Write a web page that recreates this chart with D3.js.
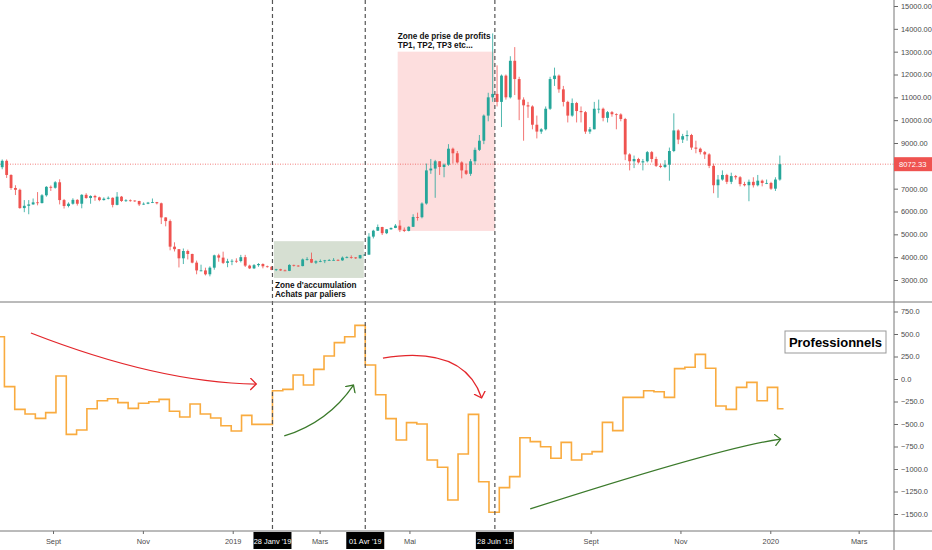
<!DOCTYPE html>
<html>
<head>
<meta charset="utf-8">
<style>
  body { margin: 0; background: #fff; }
  svg { display: block; font-family: "Liberation Sans", Arial, sans-serif; }
  .axis text { fill: #4a4a4a; font-size: 7.4px; }
  .axis line { stroke: #666; }
  .axis path { display: none; }
  .note { font-weight: bold; font-size: 8.2px; fill: #111; }
</style>
</head>
<body>
<div id="chart"></div>
<script src="https://cdn.jsdelivr.net/npm/d3@7"></script>
<script>
// ---- data ----
// 3-day candles starting 2018-07-27; open = previous close
const candleStart = "2018-07-27";
const candleDays = 3;
const firstOpen = 7940;
const closes = [
  8220, 7600, 7030, 6950, 6150, 6250, 6310, 6400, 6370, 6710,
  7080, 7040, 7280, 6500, 6240, 6340, 6510, 6340, 6730, 6590,
  6680, 6620, 6500, 6560, 6600, 6290, 6650, 6460, 6490, 6480,
  6460, 6310, 6340, 6390, 6410, 6360, 5740, 5580, 4460, 4350,
  3950, 4270, 4140, 3760, 3420, 3420, 3250, 3540, 4080, 3980,
  3750, 3820, 3840, 3830, 4000, 3630, 3510, 3650, 3700, 3600,
  3580, 3440, 3470, 3420, 3400, 3660, 3630, 3610, 3900, 3920,
  3760, 3820, 3830, 3860, 3870, 3880, 3860, 3980, 4000, 3990,
  3950, 4090, 4110, 4900, 5160, 5320, 5050, 5220, 5280, 5380,
  5200, 5150, 5330, 5760, 5750, 6350, 7800, 7880, 8200, 7950,
  8050, 8750, 8550, 8150, 7800, 7650, 8200, 8700, 9100, 10200,
  11000, 11150, 10800, 11950, 11000, 12600, 11800, 10900, 10650, 10600,
  9800, 9500, 9600, 10500, 11800, 11950, 11350, 10800, 10200, 10750,
  10400, 10350, 9500, 9600, 10500, 10500, 10100, 10350, 10260, 10250,
  10050, 8500, 8200, 8300, 8150, 8200, 8600, 8300, 8000, 7950,
  8050, 8650, 9550, 9150, 9300, 9350, 8800, 8750, 8600, 8500,
  8000, 7150, 7400, 7600, 7300, 7550, 7500, 7200, 7150, 7300,
  7150, 7350, 7250, 7250, 7000, 7400, 8072.33
];
const highs = [
  8280, 8280, 7630, 7150, 7000, 6500, 6500, 6570, 6850, 6760,
  7110, 7140, 7330, 7410, 6550, 6400, 6580, 6540, 6760, 6800,
  6710, 6730, 6650, 6620, 6660, 6620, 6850, 6680, 6540, 6530,
  6490, 6470, 6400, 6420, 6570, 6420, 6390, 5750, 5650, 4650,
  4350, 4380, 4330, 4150, 3850, 3670, 3540, 3600, 4110, 4150,
  4240, 3930, 3910, 3950, 4100, 4100, 3670, 3700, 3740, 3730,
  3630, 3610, 3490, 3490, 3460, 3690, 3670, 3650, 3940, 4000,
  4200, 3860, 3900, 3880, 3920, 3960, 3910, 4030, 4040, 4080,
  4000, 4100, 4130, 5050, 5200, 5430, 5330, 5230, 5300, 5450,
  5620, 5300, 5350, 5880, 5950, 6400, 8100, 8300, 8260, 8200,
  8100, 8950, 8800, 8650, 8200, 8100, 8300, 8800, 9350, 10250,
  11200, 13800, 12400, 12000, 12000, 12800, 13200, 11900, 11000, 10800,
  10650, 10200, 9650, 10600, 11900, 12300, 12000, 11500, 10850, 10950,
  10800, 10600, 10400, 9700, 10800, 10900, 10550, 10400, 10400, 10300,
  10300, 10100, 8550, 8450, 8350, 8300, 8650, 8650, 8400, 8100,
  8250, 8800, 10300, 9600, 9400, 9550, 9400, 9100, 8800, 8650,
  8550, 8100, 7600, 7800, 7650, 7700, 7600, 7550, 7300, 7400,
  7500, 7600, 7400, 7400, 7300, 7500, 8450
];
const lows = [
  7850, 7470, 6950, 6720, 6120, 5970, 5880, 6300, 6270, 6350,
  6650, 6900, 7000, 6310, 6130, 6180, 6300, 6260, 6140, 6560,
  6340, 6470, 6450, 6480, 6530, 6180, 6270, 6420, 6420, 6430,
  6420, 6240, 6290, 6320, 6370, 6310, 5450, 5350, 4300, 4250,
  3550, 3700, 3900, 3730, 3250, 3380, 3200, 3160, 3450, 3800,
  3700, 3560, 3650, 3750, 3770, 3570, 3480, 3480, 3580, 3510,
  3540, 3430, 3390, 3400, 3390, 3390, 3590, 3580, 3600, 3850,
  3740, 3700, 3780, 3740, 3840, 3850, 3830, 3840, 3950, 3930,
  3920, 3940, 4060, 4100, 4820, 5150, 4970, 5010, 5200, 5270,
  5100, 5100, 5130, 5320, 5600, 5700, 6300, 7650, 6600, 7600,
  7500, 8000, 8100, 8100, 7450, 7600, 7560, 8050, 8650, 8950,
  9950, 10800, 10600, 9700, 10900, 10950, 11100, 10000, 9100, 10100,
  9600, 9200, 9400, 9550, 10450, 11500, 11200, 10600, 9900, 10150,
  9900, 9900, 9400, 9400, 9600, 10300, 9950, 9900, 10150, 9600,
  9950, 8250, 7800, 7900, 8100, 7800, 8150, 8150, 7950, 7900,
  7900, 7350, 8600, 8950, 9000, 9100, 8700, 8550, 8500, 8300,
  7900, 6800, 6600, 7350, 7200, 7200, 7400, 7100, 7100, 6450,
  7050, 7100, 7100, 7200, 6950, 6900, 7350
];
const lastPrice = 8072.33;
// price scale labels (8000 sits under the last-price tag)
const priceTicks = [3000, 4000, 5000, 6000, 7000, 9000, 10000, 11000, 12000, 13000, 14000, 15000];

// weekly "Professionnels" indicator, weeks starting Monday 2018-07-23
const weekStart = "2018-07-23";
const proValues = [
  470, -85, -337, -389, -437, -374, 33, -615, -567, -330,
  -241, -219, -263, -326, -270, -252, -226, -359, -422, -278,
  -389, -433, -519, -578, -404, -504, -504, -130, -115, 44,
  -67, 107, 256, 404, 470, 596, 156, -175, -440, -678,
  -485, -500, -900, -981, -1344, -833, -393, -1141, -1481, -1207,
  -1085, -652, -696, -752, -881, -704, -900, -833, -807, -482,
  -574, -204, -204, -130, -141, -204, 115, 130, 274, 119,
  -300, -337, -93, -37, -241, -93, -330
];
const proEnd = "2020-01-10";
const proTicks = [-1500, -1250, -1000, -750, -500, -250, 0, 250, 500, 750];

// x axis (Juil 2019 is hidden under the 28 Juin tag)
const monthTicks = ["2018-09-01","2018-11-01","2019-01-01","2019-03-01","2019-05-01",
                    "2019-09-01","2019-11-01","2020-01-01","2020-03-01"];
const monthLabels = ["Sept","Nov","2019","Mars","Mai","Sept","Nov","2020","Mars"];

// marked dates
const markDates = ["2019-01-28","2019-04-01","2019-06-28"];
const markLabels = ["28 Janv '19","01 Avr '19","28 Juin '19"];

// zones: [from, to, low, high]
const accZone = ["2019-01-29","2019-03-31",3090,4700];
const tpZone = ["2019-04-23","2019-06-28",5150,13000];

// arrows in the indicator pane: [start, control, end] as [date, value]
const arrowRed1 = [["2018-08-17",511],["2018-11-12",-44],["2019-01-17",-56]];
const arrowGreen1 = [["2019-02-05",-633],["2019-03-07",-478],["2019-03-24",-67]];
const arrowRed2 = [["2019-04-13",233],["2019-06-07",378],["2019-06-19",-211]];
const arrowGreen2 = [["2019-07-22",-1444],["2019-11-30",-756],["2020-01-08",-667]];

// ---- chart ----
const W = 932, H = 550;
const plotR = 894;
const paneSep = 302, timeAxisY = 531;
const upCol = "#26a69a", downCol = "#ef5350";
const red = "#e3262b", green = "#3b7a2b";

const parse = d3.timeParse("%Y-%m-%d");

const x = d3.scaleTime()
  .domain([parse("2018-07-27"), parse("2020-03-25")])
  .range([0, plotR]);
const yP = d3.scaleLinear().domain([3000, 15000]).range([280, 6]);
const yI = d3.scaleLinear().domain([-1500, 750]).range([514, 311.5]);

const svg = d3.select("#chart").append("svg")
  .attr("width", W).attr("height", H);

const defs = svg.append("defs");
defs.append("clipPath").attr("id", "plotclip")
  .append("rect").attr("x", 0).attr("y", 0).attr("width", plotR).attr("height", timeAxisY);

[["headRed", red], ["headGreen", green]].forEach(([id, c]) => {
  defs.append("marker")
    .attr("id", id)
    .attr("markerUnits", "userSpaceOnUse")
    .attr("markerWidth", 10).attr("markerHeight", 14)
    .attr("refX", 6).attr("refY", 6)
    .attr("orient", "auto")
    .append("path")
    .attr("d", "M0,0 L6,6 L0,12")
    .attr("fill", "none")
    .attr("stroke", c)
    .attr("stroke-width", 1.3);
});

const plot = svg.append("g").attr("clip-path", "url(#plotclip)");

// zones
function zone(z, fill) {
  plot.append("rect")
    .attr("x", x(parse(z[0])))
    .attr("y", yP(z[3]))
    .attr("width", x(parse(z[1])) - x(parse(z[0])))
    .attr("height", yP(z[2]) - yP(z[3]))
    .attr("fill", fill);
}
zone(accZone, "#d6dfd2");
zone(tpZone, "#fddede");

// last price line
plot.append("line")
  .attr("x1", 0).attr("x2", plotR)
  .attr("y1", yP(lastPrice)).attr("y2", yP(lastPrice))
  .attr("stroke", downCol).attr("stroke-opacity", 0.75)
  .attr("stroke-dasharray", "1,1.5");

// candles
const t0 = parse(candleStart);
const candles = closes.map((c, i) => ({
  d0: d3.timeDay.offset(t0, i * candleDays),
  d1: d3.timeDay.offset(t0, (i + 1) * candleDays),
  o: i === 0 ? firstOpen : closes[i - 1],
  c: c, h: highs[i], l: lows[i]
}));

const cg = plot.append("g").selectAll("g").data(candles).join("g");
cg.append("line")
  .attr("x1", d => (x(d.d0) + x(d.d1)) / 2)
  .attr("x2", d => (x(d.d0) + x(d.d1)) / 2)
  .attr("y1", d => yP(d.h))
  .attr("y2", d => yP(d.l))
  .attr("stroke", d => d.c >= d.o ? upCol : downCol)
  .attr("stroke-width", 0.8);
cg.append("rect")
  .attr("x", d => x(d.d0) + (x(d.d1) - x(d.d0)) * 0.18)
  .attr("width", d => (x(d.d1) - x(d.d0)) * 0.64)
  .attr("y", d => yP(Math.max(d.o, d.c)))
  .attr("height", d => Math.max(0.8, Math.abs(yP(d.o) - yP(d.c))))
  .attr("fill", d => d.c >= d.o ? upCol : downCol);

// indicator step line
const w0 = parse(weekStart);
const proPts = proValues.map((v, i) => [d3.timeDay.offset(w0, i * 7), v]);
proPts.push([parse(proEnd), proValues[proValues.length - 1]]);
plot.append("path")
  .datum(proPts)
  .attr("fill", "none")
  .attr("stroke", "#f9ab3f")
  .attr("stroke-width", 1.6)
  .attr("d", d3.line().x(d => x(d[0])).y(d => yI(d[1])).curve(d3.curveStepAfter));

// arrows
function arrow(a, c, head) {
  const p = a.map(q => [x(parse(q[0])), yI(q[1])]);
  svg.append("path")
    .attr("d", `M${p[0][0]},${p[0][1]} Q${p[1][0]},${p[1][1]} ${p[2][0]},${p[2][1]}`)
    .attr("fill", "none")
    .attr("stroke", c)
    .attr("stroke-width", 1.3)
    .attr("marker-end", `url(#${head})`);
}
arrow(arrowRed1, red, "headRed");
arrow(arrowGreen1, green, "headGreen");
arrow(arrowRed2, red, "headRed");
arrow(arrowGreen2, green, "headGreen");

// dashed vertical markers
svg.append("g").selectAll("line").data(markDates).join("line")
  .attr("x1", d => x(parse(d))).attr("x2", d => x(parse(d)))
  .attr("y1", 0).attr("y2", timeAxisY)
  .attr("stroke", "#555")
  .attr("stroke-width", 1.2)
  .attr("stroke-dasharray", "4,3");

// zone notes
const tpX = x(parse(tpZone[0]));
svg.append("text").attr("class", "note").attr("x", tpX).attr("y", yP(tpZone[3]) - 13)
  .text("Zone de prise de profits");
svg.append("text").attr("class", "note").attr("x", tpX).attr("y", yP(tpZone[3]) - 4)
  .text("TP1, TP2, TP3 etc...");
const accX = x(parse(accZone[0])) + 1;
svg.append("text").attr("class", "note").attr("x", accX).attr("y", yP(accZone[2]) + 10)
  .text("Zone d'accumulation");
svg.append("text").attr("class", "note").attr("x", accX).attr("y", yP(accZone[2]) + 19)
  .text("Achats par paliers");

// pane label
const lab = svg.append("g").attr("transform", `translate(${plotR - 109},331)`);
lab.append("rect").attr("width", 101).attr("height", 22)
  .attr("fill", "#fff").attr("stroke", "#999").attr("stroke-width", 1);
lab.append("text").attr("x", 50.5).attr("y", 15.5)
  .attr("text-anchor", "middle")
  .attr("font-weight", "bold").attr("font-size", 13).attr("fill", "#000")
  .text("Professionnels");

// axes
svg.append("g").attr("class", "axis")
  .attr("transform", `translate(${plotR},0)`)
  .call(d3.axisRight(yP).tickValues(priceTicks)
    .tickFormat(d3.format(".2f")).tickSize(4).tickPadding(3));
svg.append("g").attr("class", "axis")
  .attr("transform", `translate(${plotR},0)`)
  .call(d3.axisRight(yI).tickValues(proTicks)
    .tickFormat(d3.format(".1f")).tickSize(4).tickPadding(3));
svg.append("g").attr("class", "axis")
  .attr("transform", `translate(0,${timeAxisY})`)
  .call(d3.axisBottom(x).tickValues(monthTicks.map(parse))
    .tickFormat((d, i) => monthLabels[i]).tickSize(3).tickPadding(5));

// frame lines
svg.append("line").attr("x1", plotR).attr("x2", plotR).attr("y1", 0).attr("y2", H)
  .attr("stroke", "#777");
[paneSep, timeAxisY].forEach(yv => {
  svg.append("line").attr("x1", 0).attr("x2", W).attr("y1", yv).attr("y2", yv)
    .attr("stroke", "#777");
});

// last price tag
const tag = svg.append("g").attr("transform", `translate(${plotR},${yP(lastPrice) - 7})`);
tag.append("rect").attr("width", W - plotR).attr("height", 14).attr("fill", downCol);
tag.append("text").attr("x", 5).attr("y", 10).attr("fill", "#fff")
  .attr("font-size", 7.6).text(lastPrice.toFixed(2));

// date tags
const dt = svg.append("g").selectAll("g").data(markDates).join("g")
  .attr("transform", d => `translate(${x(parse(d))},${timeAxisY + 1})`);
dt.append("rect").attr("x", -19).attr("width", 38).attr("height", 17).attr("fill", "#000");
dt.append("text").attr("y", 11.5).attr("text-anchor", "middle")
  .attr("fill", "#fff").attr("font-size", 7.4)
  .text((d, i) => markLabels[i]);
</script>
</body>
</html>
